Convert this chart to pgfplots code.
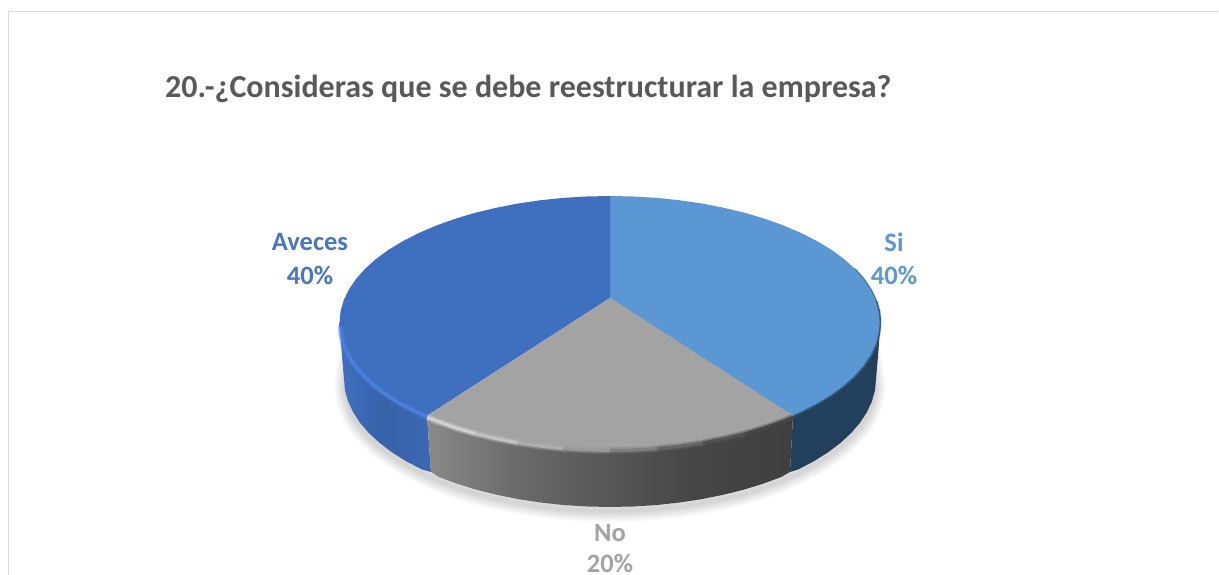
\documentclass[border=0pt]{standalone}
\usepackage{fontspec}
\setmainfont{Carlito}
\usepackage{pgfplots}
\usepackage{pgfplotstable}
\pgfplotsset{compat=1.18}

\definecolor{cAveces}{HTML}{3F6FBF}
\definecolor{cSi}{HTML}{5B98D3}
\definecolor{cNo}{HTML}{A3A3A3}
\definecolor{cTitle}{HTML}{595959}
\definecolor{cSiWall}{HTML}{22405B}
\definecolor{cAvRim}{HTML}{4C80E0}

% side-wall shadings
\pgfdeclarehorizontalshading{wallno}{100bp}{
  color(0bp)=(white!54!black); color(25bp)=(white!54!black);
  color(37bp)=(white!42!black); color(50bp)=(white!34!black);
  color(62bp)=(white!27!black); color(75bp)=(white!25!black); color(100bp)=(white!25!black)}
\pgfdeclarehorizontalshading{wallav}{100bp}{
  color(0bp)=(cAveces); color(25bp)=(cAveces);
  color(50bp)=(cAveces!88!black); color(75bp)=(cAveces!94!black); color(100bp)=(cAveces!94!black)}

% rim of the top face, lower front part of the "No" slice
\pgfplotstableread{
x y
793 417.2
783.9 420.9
765.2 427.6
745.25 433.6
724.3 438.6
702.5 442.9
680 446.2
657 448.6
633.6 450
610 450.5
586.4 450
563 448.6
540 446.2
517.5 442.9
495.7 438.6
474.75 433.6
454.8 427.6
436.1 420.9
427 417.2
}\noRim

% rim of the top face, front part of the "Aveces" slice
\pgfplotstableread{
x y
427 417
418.7 413.2
402.8 405.2
388.4 396.5
375.7 387.1
364.8 377.2
355.8 367
348.7 356.2
343.6 345.3
341 334
340.5 326
}\avRim

\begin{document}
\begin{tikzpicture}
\begin{axis}[
  at={(0pt,0pt)}, anchor=south west,
  scale only axis, width=1219pt, height=575pt,
  xmin=0, xmax=1219, ymin=0, ymax=575, y dir=reverse,
  hide axis, clip=true]

% page background and chart frame
\addplot[fill=white, draw=none] coordinates {(0,0)(1219,0)(1219,575)(0,575)} --cycle;
\addplot[draw=white!85!black, line width=1.4pt] coordinates {(8.5,575)(8.5,11.5)(1218,11.5)};

% soft shadow under the disc
\pgfplotsinvokeforeach{22,19,16,13,10,7,4}{
\addplot[draw=black, opacity=0.022, line width=#1pt, line join=round, line cap=round, fill=none] coordinates {
(864,335)(871,360)(875,385)(874,394)(871.5,405)(866.9,416)(860,427)(851.1,437)(840.4,447)(827.9,456)(813.8,465)(798.1,473)(781,481)(762.6,488)(743,494)(722.4,499)(701,503)(678.8,506.5)(656.2,509)(633.2,510.5)(610,511)(586.8,510.5)(563.8,509)(541.2,506.5)(519,503)(497.6,499)(477,494)(457.4,488)(439,481)(421.9,473)(406.2,465)(392.1,456)(379.6,447)(368.9,437)(360,427)(353.1,416)(348.5,405)(346,394)(345,385)(349,360)(356,335)};
}

% side wall of "Si"
\addplot[fill=cSiWall, draw=none] coordinates {
(793,415.7)(801.3,411.9)(817.2,403.8)(831.6,395.1)(844.3,385.75)(855.2,376)(864.2,365.8)(871.3,355.2)(876.4,344.5)(879.5,333.5)(880.5,322.5)
(878.5,350)(876,379)(875,390.2)(872,401.2)(866.9,412.1)(860,422.8)(851.1,433.1)(840.4,443)(827.9,452.4)(813.8,461.3)(798.1,469.5)(790,472)} --cycle;

% side wall of "Aveces"
\addplot[shading=wallav, draw=none] coordinates {
(427,415.7)(418.7,411.9)(402.8,403.8)(388.4,395.1)(375.7,385.75)(364.8,376)(355.8,365.8)(348.7,355.2)(343.6,344.5)(340.5,333.5)(339.5,322.5)
(341.5,350)(344,379)(345,390.2)(348,401.2)(353.1,412.1)(360,422.8)(368.9,433.1)(379.6,443)(392.1,452.4)(406.2,461.3)(421.9,469.5)(431,472)} --cycle;

% side wall of "No"
\addplot[shading=wallno, draw=none] coordinates {
(427,415.7)(436.1,419.4)(454.8,426.1)(474.75,432.1)(495.7,437.1)(517.5,441.4)(540,444.7)(563,447.1)(586.4,448.5)(610,449)(633.6,448.5)(657,447.1)(680,444.7)(702.5,441.4)(724.3,437.1)(745.25,432.1)(765.2,426.1)(783.9,419.4)(793,415.7)
(790,472)(781,477.1)(762.6,483.9)(743,489.9)(722.4,495)(701,499.3)(678.8,502.6)(656.2,505.1)(633.2,506.5)(610,507)(586.8,506.5)(563.8,505.1)(541.2,502.6)(519,499.3)(497.6,495)(477,489.9)(457.4,483.9)(439,477.1)(431,472)} --cycle;

% top face "Si"
\addplot[fill=cSi, draw=none] coordinates {
(610,298)(610,196)(633.6,196.5)(657,197.9)(680,200.3)(702.5,203.6)(724.3,207.9)(745.25,212.9)(765.2,218.9)(783.9,225.6)(801.3,233.1)(817.2,241.2)(831.6,249.9)(844.3,259.25)(855.2,269)(864.2,279.2)(871.3,289.8)(876.4,300.5)(879.5,311.5)(880.5,322.5)(879.5,333.5)(876.4,344.5)(871.3,355.2)(864.2,365.8)(855.2,376)(844.3,385.75)(831.6,395.1)(817.2,403.8)(801.3,411.9)(793,415.7)} --cycle;

% top face "Aveces"
\addplot[fill=cAveces, draw=none] coordinates {
(610,298)(427,415.7)(418.7,411.9)(402.8,403.8)(388.4,395.1)(375.7,385.75)(364.8,376)(355.8,365.8)(348.7,355.2)(343.6,344.5)(340.5,333.5)(339.5,322.5)(340.5,311.5)(343.6,300.5)(348.7,289.8)(355.8,279.2)(364.8,269)(375.7,259.25)(388.4,249.9)(402.8,241.2)(418.7,233.1)(436.1,225.6)(454.8,218.9)(474.75,212.9)(495.7,207.9)(517.5,203.6)(540,200.3)(563,197.9)(586.4,196.5)(610,196)} --cycle;

% top face "No"
\addplot[fill=cNo, draw=none] coordinates {
(610,298)(793,415.7)(783.9,419.4)(765.2,426.1)(745.25,432.1)(724.3,437.1)(702.5,441.4)(680,444.7)(657,447.1)(633.6,448.5)(610,449)(586.4,448.5)(563,447.1)(540,444.7)(517.5,441.4)(495.7,437.1)(474.75,432.1)(454.8,426.1)(436.1,419.4)(427,415.7)} --cycle;

% bevel along the rim: a wide faint stroke, then a narrow one
\addplot[draw=white!82!black, line width=6.5pt, opacity=0.4] table[restrict x to domain=427:475]{\noRim};
\addplot[draw=white!76!black, line width=6.5pt, opacity=0.4] table[restrict x to domain=474:518]{\noRim};
\addplot[draw=white!68!black, line width=6.5pt, opacity=0.4] table[restrict x to domain=517:564]{\noRim};
\addplot[draw=white!60!black, line width=6.5pt, opacity=0.4] table[restrict x to domain=563:611]{\noRim};
\addplot[draw=white!50!black, line width=6.5pt, opacity=0.4] table[restrict x to domain=610:658]{\noRim};
\addplot[draw=white!40!black, line width=6.5pt, opacity=0.4] table[restrict x to domain=657:703]{\noRim};
\addplot[draw=white!32!black, line width=6.5pt, opacity=0.4] table[restrict x to domain=702:746]{\noRim};
\addplot[draw=white!28!black, line width=6.5pt, opacity=0.4] table[restrict x to domain=745:794]{\noRim};

\addplot[draw=white!82!black, line width=3pt] table[restrict x to domain=427:475]{\noRim};
\addplot[draw=white!76!black, line width=3pt] table[restrict x to domain=474:518]{\noRim};
\addplot[draw=white!68!black, line width=3pt] table[restrict x to domain=517:564]{\noRim};
\addplot[draw=white!60!black, line width=3pt] table[restrict x to domain=563:611]{\noRim};
\addplot[draw=white!50!black, line width=3pt] table[restrict x to domain=610:658]{\noRim};
\addplot[draw=white!40!black, line width=3pt] table[restrict x to domain=657:703]{\noRim};
\addplot[draw=white!32!black, line width=3pt] table[restrict x to domain=702:746]{\noRim};
\addplot[draw=white!28!black, line width=3pt] table[restrict x to domain=745:794]{\noRim};

\addplot[draw=cAvRim, line width=6pt, opacity=0.35, line join=round] table{\avRim};
\addplot[draw=cAvRim, line width=2.6pt, line join=round] table{\avRim};

% darker edge on the right of "Si"
\addplot[draw={rgb,255:red,52;green,92;blue,130}, line width=1.6pt, line join=round] coordinates {
(793,416.2)(801.3,412.4)(817.2,404.3)(831.6,395.6)(844.3,386.2)(855.2,376.4)(864.2,366.2)(871.3,355.5)(876.4,344.7)(879.5,333.6)(880.5,322.5)(879.5,311.5)(876.4,300.5)};
\addplot[draw={rgb,255:red,70;green,118;blue,165}, line width=1.2pt, line join=round] coordinates {
(876.4,300.5)(871.3,289.8)(864.2,279.2)(855.2,269)};

% slice boundary between "Si" and "No"
\addplot[draw=cNo!70!cSi, line width=0.5pt] coordinates {(610,298)(793,415.7)};

% texts
\node[font=\bfseries\fontsize{32}{32}\selectfont, text=cTitle, anchor=west, inner sep=0pt] at (axis cs:165,89) {20.-¿Consideras que se debe reestructurar la empresa?};
\node[font=\bfseries\fontsize{26.5}{26.5}\selectfont, text=cAveces!95!white] at (axis cs:310,242) {Aveces};
\node[font=\bfseries\fontsize{26.5}{26.5}\selectfont, text=cAveces!95!white] at (axis cs:310,275) {40\%};
\node[font=\bfseries\fontsize{26.5}{26.5}\selectfont, text=cSi] at (axis cs:894,242) {Si};
\node[font=\bfseries\fontsize{26.5}{26.5}\selectfont, text=cSi] at (axis cs:894,275) {40\%};
\node[font=\bfseries\fontsize{26.5}{26.5}\selectfont, text=cNo] at (axis cs:610,533) {No};
\node[font=\bfseries\fontsize{26.5}{26.5}\selectfont, text=cNo] at (axis cs:610,563) {20\%};
\end{axis}
\end{tikzpicture}
\end{document}
